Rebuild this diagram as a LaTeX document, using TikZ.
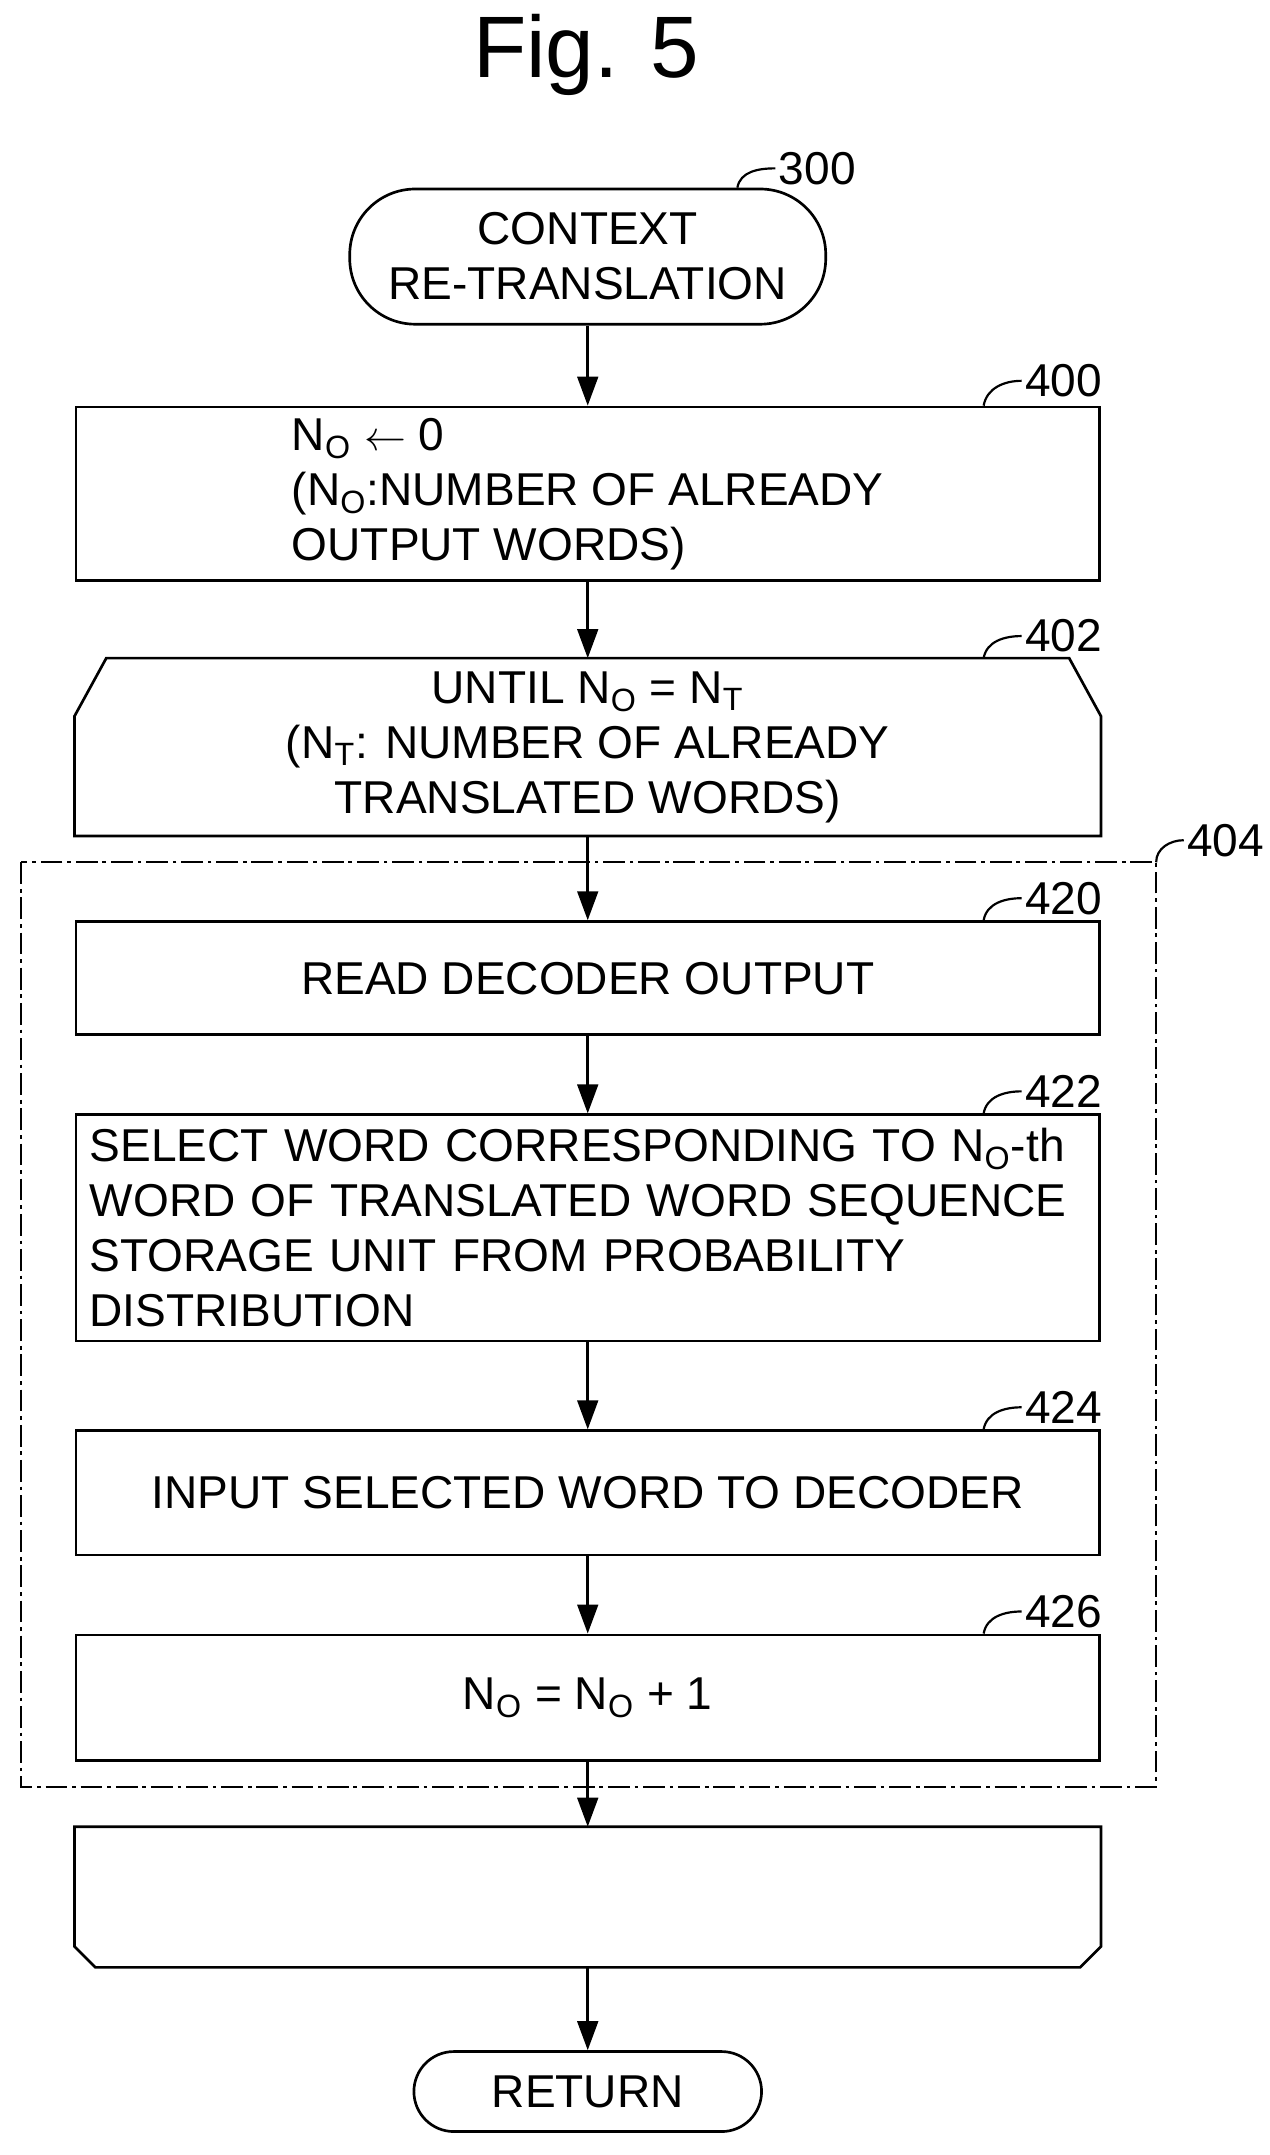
\documentclass[tikz,border=0pt]{standalone}
\usepackage{fontspec}
\setmainfont{Liberation Sans}
\usetikzlibrary{positioning, arrows.meta}
\tikzset{
    box/.style={
        draw, line width=1.1pt, minimum width=14.84cm,
        align=center, font=\fontsize{19}{22.7}\selectfont
    },
    term/.style={
        box, rounded corners=0.58cm, minimum width=5.04cm
    },
    loophex/.style={box, draw=none},
    line/.style={line width=1.1pt, -{Triangle[length=0.42cm,width=0.3cm]}},
    ref/.style={line width=0.9pt},
    reflabel/.style={right, inner sep=1pt, font=\fontsize{19}{22}\selectfont}
}
\begin{document}
\begin{tikzpicture}
\useasboundingbox (0,0) rectangle (18.4,-31.24);

\node[font=\fontsize{36}{40}\selectfont] (title) at (8.5,-0.8) {Fig. 5};

% terminals and boxes
\node[term, minimum width=6.9cm, minimum height=1.96cm, rounded corners=0.95cm] (start) at (8.52,-3.72) {CONTEXT\\RE-TRANSLATION};
\node[box, minimum height=2.52cm, align=left] (init) at (8.52,-7.16)
    {N\textsubscript{O} $\leftarrow$ 0\\(N\textsubscript{O}:NUMBER OF ALREADY\\OUTPUT WORDS)};
\node[loophex, minimum height=2.54cm] (until) at (8.52,-10.83)
    {UNTIL N\textsubscript{O} = N\textsubscript{T}\\(N\textsubscript{T}: NUMBER OF ALREADY\\TRANSLATED WORDS)};
\node[box, minimum height=1.64cm] (read) at (8.52,-14.18) {READ DECODER OUTPUT};
\node[box, minimum height=3.28cm, text width=14.44cm, align=left, inner xsep=0.2cm] (select) at (8.52,-17.8)
    {SELECT WORD CORRESPONDING TO N\textsubscript{O}-th\\WORD OF TRANSLATED WORD SEQUENCE\\STORAGE UNIT FROM PROBABILITY\\DISTRIBUTION};
\node[box, minimum height=1.8cm] (input) at (8.52,-21.64) {INPUT SELECTED WORD TO DECODER};
\node[box, minimum height=1.82cm] (incr) at (8.52,-24.61) {N\textsubscript{O} = N\textsubscript{O} + 1};
\node[loophex, minimum height=2.0cm] (loopend) at (8.52,-27.5) {};
\node[term, minimum height=1.16cm] (stop) at (8.52,-30.32) {RETURN};

% loop limit outlines
\draw[line width=1.1pt] (until.south west) -- ([yshift=-0.84cm]until.north west) -- ([xshift=0.46cm]until.north west)
    -- ([xshift=-0.46cm]until.north east) -- ([yshift=-0.84cm]until.north east) -- (until.south east) -- cycle;
\draw[line width=1.1pt] (loopend.north west) -- ([yshift=0.3cm]loopend.south west) -- ([xshift=0.3cm]loopend.south west)
    -- ([xshift=-0.3cm]loopend.south east) -- ([yshift=0.3cm]loopend.south east) -- (loopend.north east) -- cycle;

% loop frame
\draw[line width=0.9pt, dash pattern=on 9pt off 2pt on 1.5pt off 2pt] (0.3,-12.5) rectangle (16.76,-25.9);
\coordinate (frame) at (16.76,-12.5);

% Lines
\draw[line] (start) -- (init);
\draw[line] (init) -- (until);
\draw[line] (until) -- (read);
\draw[line] (read) -- (select);
\draw[line] (select) -- (input);
\draw[line] (input) -- (incr);
\draw[line] (incr) -- (loopend);
\draw[line] (loopend) -- (stop);

% reference numbers
\draw[ref] ([xshift=-1.3cm]start.north east) to[out=80,in=180] ++(0.55,0.28) node[reflabel]{300};
\draw[ref] ([xshift=-1.7cm]init.north east) to[out=80,in=180] ++(0.55,0.36) node[reflabel]{400};
\draw[ref] ([xshift=-1.7cm]until.north east) to[out=80,in=180] ++(0.55,0.32) node[reflabel]{402};
\draw[ref] (frame) to[out=90,in=180] ++(0.4,0.32) node[reflabel]{404};
\draw[ref] ([xshift=-1.7cm]read.north east) to[out=80,in=180] ++(0.55,0.32) node[reflabel]{420};
\draw[ref] ([xshift=-1.7cm]select.north east) to[out=80,in=180] ++(0.55,0.32) node[reflabel]{422};
\draw[ref] ([xshift=-1.7cm]input.north east) to[out=80,in=180] ++(0.55,0.32) node[reflabel]{424};
\draw[ref] ([xshift=-1.7cm]incr.north east) to[out=80,in=180] ++(0.55,0.32) node[reflabel]{426};

\end{tikzpicture}
\end{document}
